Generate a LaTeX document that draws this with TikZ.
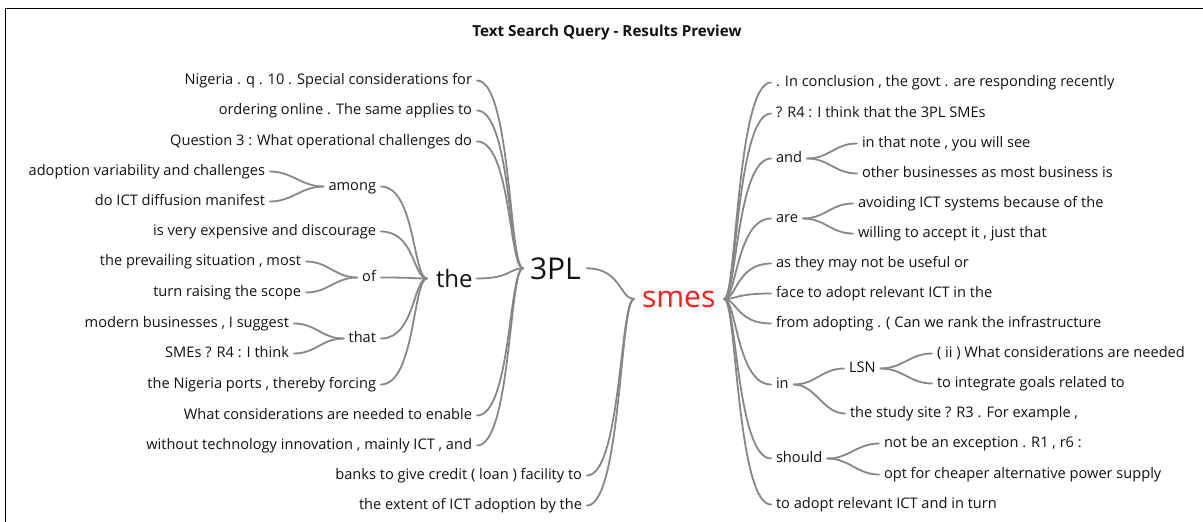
\documentclass[tikz,border=0pt]{standalone}
\usepackage{fontspec}
\setmainfont{Open Sans}
\definecolor{ink}{HTML}{121212}
\definecolor{edge}{HTML}{878787}
\definecolor{hot}{HTML}{FF1A1A}
\begin{document}
\begin{tikzpicture}[x=1pt,y=-1pt,
  every node/.style={inner sep=0pt, outer sep=0pt, text=ink},
  sm/.style={font=\fontsize{14.6}{17}\selectfont, text height=10.9pt, text depth=3.1pt, yshift=-2.5pt},
  lt/.style={sm, anchor=east},
  rt/.style={sm, anchor=west},
  bigw/.style={anchor=base west, font=\fontsize{#1}{#1}\selectfont},
  ln/.style={draw=edge, line width=1.8pt, line cap=round},
  intofan/.style={out=0, in=180, out distance=34pt, in distance=14pt},
  outfan/.style={out=0, in=180, out distance=12pt, in distance=34pt},
  sub/.style={out=0, in=180, out distance=22pt, in distance=22pt}]

\useasboundingbox (0,0) rectangle (1203,522);
\fill[white] (0,0) rectangle (1203,522);
% frame
\draw[line width=1.5pt, black] (5.5,522) -- (5.5,8.5) -- (1203,8.5);

% title
\node[font=\bfseries\fontsize{15.2}{18}\selectfont] (title) at (607,33) {Text Search Query - Results Preview};

% central words
\node[bigw=30, text height=21.4pt, text depth=0pt] (w3pl) at (530,279) {3PL};
\node[bigw=24, text height=17pt, text depth=0pt] (wthe) at (436,287) {the};
\node[bigw=30, text height=16pt, text depth=0pt, text=hot] (smes) at (642,307) {smes};

\coordinate (p3pl) at ([xshift=-7pt]w3pl.west);
\coordinate (pthe) at ([xshift=-9pt]wthe.west);
\coordinate (psl) at ([xshift=-8pt]smes.west);
\coordinate (psr) at ([xshift=9pt]smes.east);

% left branches of 3PL
\node[lt] (l1) at (472,78) {Nigeria . q . 10 . Special considerations for};
\node[lt] (l2) at (472,108) {ordering online . The same applies to};
\node[lt] (l3) at (472,139) {Question 3 : What operational challenges do};
\node[lt] (l4) at (472,413) {What considerations are needed to enable};
\node[lt] (l5) at (472,443) {without technology innovation , mainly ICT , and};

% left branches of "the"
\node[lt] (among) at (376,184) {among};
\node[lt] (a1) at (265,169) {adoption variability and challenges};
\node[lt] (a2) at (265,199) {do ICT diffusion manifest};
\node[lt] (t2) at (376,229) {is very expensive and discourage};
\node[lt] (of) at (376,275) {of};
\node[lt] (o1) at (301,259) {the prevailing situation , most};
\node[lt] (o2) at (301,290) {turn raising the scope};
\node[lt] (that) at (376,336) {that};
\node[lt] (h1) at (289,321) {modern businesses , I suggest};
\node[lt] (h2) at (289,351) {SMEs ? R4 : I think};
\node[lt] (t5) at (376,382) {the Nigeria ports , thereby forcing};

% left branches of smes
\node[lt] (s1) at (582,473) {banks to give credit ( loan ) facility to};
\node[lt] (s2) at (582,503) {the extent of ICT adoption by the};

% right branches of smes
\node[rt] (r1) at (776,80) {. In conclusion , the govt . are responding recently};
\node[rt] (r2) at (776,111) {? R4 : I think that the 3PL SMEs};
\node[rt] (and) at (776,156) {and};
\node[rt] (n1) at (862,141) {in that note , you will see};
\node[rt] (n2) at (862,171) {other businesses as most business is};
\node[rt] (are) at (776,216) {are};
\node[rt] (e1) at (858,201) {avoiding ICT systems because of the};
\node[rt] (e2) at (858,231) {willing to accept it , just that};
\node[rt] (r5) at (776,261) {as they may not be useful or};
\node[rt] (r6) at (776,291) {face to adopt relevant ICT in the};
\node[rt] (r7) at (776,321) {from adopting . ( Can we rank the infrastructure};
\node[rt] (in) at (776,382) {in};
\node[rt] (lsn) at (849,366) {LSN};
\node[rt] (q1) at (937,351) {( ii ) What considerations are needed};
\node[rt] (q2) at (937,381) {to integrate goals related to};
\node[rt] (site) at (850,411) {the study site ? R3 . For example ,};
\node[rt] (should) at (776,456) {should};
\node[rt] (d1) at (884,441) {not be an exception . R1 , r6 :};
\node[rt] (d2) at (884,472) {opt for cheaper alternative power supply};
\node[rt] (r10) at (776,502) {to adopt relevant ICT and in turn};

% connectors into 3PL
\foreach \c in {l1,l2,l3,l4,l5}
  \draw[ln] ([xshift=5pt]\c.east) to[intofan] (p3pl);
\draw[ln] ([xshift=4pt]wthe.east) to[intofan] (p3pl);

% connectors into "the"
\foreach \c in {among,t2,of,that,t5}
  \draw[ln] ([xshift=5pt]\c.east) to[intofan] (pthe);

% second-level connectors on the left
\draw[ln] ([xshift=5pt]a1.east) to[sub] ([xshift=-5pt]among.west);
\draw[ln] ([xshift=5pt]a2.east) to[sub] ([xshift=-5pt]among.west);
\draw[ln] ([xshift=5pt]o1.east) to[sub] ([xshift=-5pt]of.west);
\draw[ln] ([xshift=5pt]o2.east) to[sub] ([xshift=-5pt]of.west);
\draw[ln] ([xshift=5pt]h1.east) to[sub] ([xshift=-5pt]that.west);
\draw[ln] ([xshift=5pt]h2.east) to[sub] ([xshift=-5pt]that.west);

% connectors into smes from the left
\draw[ln] ([xshift=6pt]w3pl.east) to[intofan] (psl);
\draw[ln] ([xshift=5pt]s1.east) to[intofan] (psl);
\draw[ln] ([xshift=5pt]s2.east) to[intofan] (psl);

% connectors out of smes to the right
\foreach \c in {r1,r2,and,are,r5,r6,r7,in,should,r10}
  \draw[ln] (psr) to[outfan] ([xshift=-5pt]\c.west);

% second-level connectors on the right
\draw[ln] ([xshift=5pt]and.east) to[sub] ([xshift=-5pt]n1.west);
\draw[ln] ([xshift=5pt]and.east) to[sub] ([xshift=-5pt]n2.west);
\draw[ln] ([xshift=5pt]are.east) to[sub] ([xshift=-5pt]e1.west);
\draw[ln] ([xshift=5pt]are.east) to[sub] ([xshift=-5pt]e2.west);
\draw[ln] ([xshift=5pt]in.east) to[sub] ([xshift=-5pt]lsn.west);
\draw[ln] ([xshift=5pt]in.east) to[sub] ([xshift=-5pt]site.west);
\draw[ln] ([xshift=5pt]lsn.east) to[sub] ([xshift=-5pt]q1.west);
\draw[ln] ([xshift=5pt]lsn.east) to[sub] ([xshift=-5pt]q2.west);
\draw[ln] ([xshift=5pt]should.east) to[sub] ([xshift=-5pt]d1.west);
\draw[ln] ([xshift=5pt]should.east) to[sub] ([xshift=-5pt]d2.west);
\end{tikzpicture}
\end{document}
